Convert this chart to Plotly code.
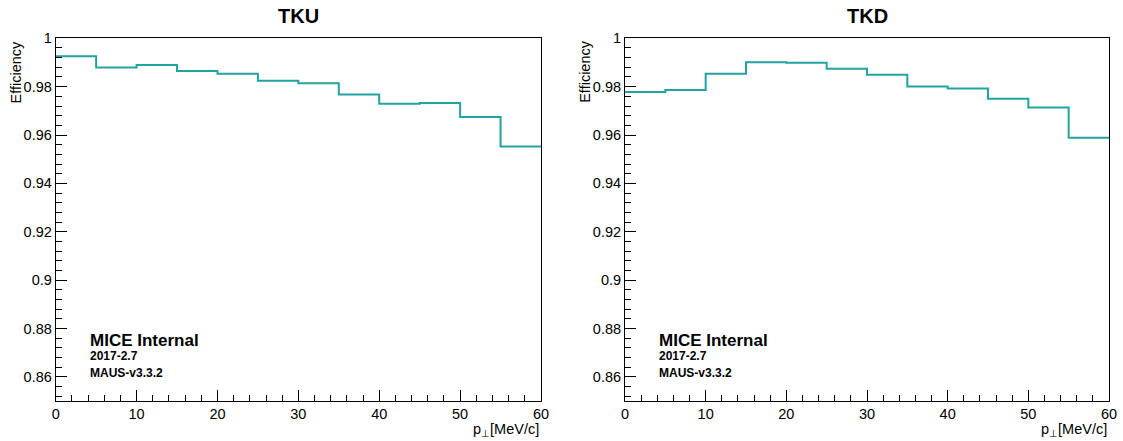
import plotly.graph_objects as go

# ---- data ----
bin_edges = [0, 5, 10, 15, 20, 25, 30, 35, 40, 45, 50, 55, 60]
tku_eff = [0.9926, 0.9879, 0.9890, 0.9865, 0.9853, 0.9824, 0.9814, 0.9768, 0.9729, 0.9732, 0.9675, 0.9553]
tkd_eff = [0.9778, 0.9786, 0.9853, 0.9901, 0.9899, 0.9874, 0.9849, 0.9801, 0.9792, 0.9750, 0.9714, 0.9589]
titles = ["TKU", "TKD"]
y_title = "Efficiency"
x_title = "p<sub>⊥</sub>[MeV/c]"
label_lines = ["MICE Internal", "2017-2.7", "MAUS-v3.3.2"]

W, H = 1123, 441
FONT = "Liberation Sans, Arial, Helvetica, sans-serif"
COLOR = "#21a3a1"


def px(x):
    return x / W


def py(y):
    return 1 - y / H


panels = [
    dict(x0=55.7, x1=541.0),
    dict(x0=625.0, x1=1109.0),
]
y_top, y_bot = 38.3, 401.0

fig = go.Figure()
annotations = []
for i, (eff, p) in enumerate(zip([tku_eff, tkd_eff], panels)):
    n = "" if i == 0 else str(i + 1)
    fig.add_trace(go.Scatter(
        x=bin_edges, y=eff + [eff[-1]], mode="lines", line_shape="hv",
        line=dict(color=COLOR, width=2), xaxis="x" + n, yaxis="y" + n,
        showlegend=False, hoverinfo="skip"))
    axcommon = dict(showline=True, linecolor="black", linewidth=1, mirror=True,
                    ticks="inside", tickcolor="black", tickwidth=1, ticklen=11,
                    showgrid=False, zeroline=False, automargin=False,
                    tickfont=dict(family=FONT, size=14.5, color="black"))
    fig.update_layout(**{
        "xaxis" + n: dict(domain=[px(p["x0"]), px(p["x1"])], range=[0, 60], dtick=10, tick0=0,
                          anchor="y" + n,
                          minor=dict(dtick=2, ticks="inside", ticklen=6, tickcolor="black", showgrid=False),
                          **axcommon),
        "yaxis" + n: dict(domain=[py(y_bot), py(y_top)], range=[0.85, 1.0], dtick=0.02, tick0=0.86,
                          anchor="x" + n,
                          minor=dict(dtick=0.004, ticks="inside", ticklen=6, tickcolor="black", showgrid=False),
                          **axcommon),
    })
    cx = (p["x0"] + p["x1"]) / 2
    annotations.append(dict(x=px(cx), y=py(16), xref="paper", yref="paper", text="<b>%s</b>" % titles[i],
                            showarrow=False, xanchor="center", yanchor="middle",
                            font=dict(family=FONT, size=20, color="black")))
    annotations.append(dict(x=px(p["x0"] - 40), y=py(y_top), xref="paper", yref="paper", text=y_title,
                            textangle=-90, showarrow=False, xanchor="center", yanchor="top",
                            font=dict(family=FONT, size=14.5, color="black")))
    annotations.append(dict(x=px(p["x1"]), y=py(430), xref="paper", yref="paper", text=x_title,
                            showarrow=False, xanchor="right", yanchor="middle",
                            font=dict(family=FONT, size=14.5, color="black")))
    tx = p["x0"] + 32
    annotations.append(dict(x=px(tx), y=py(340.5), xref="paper", yref="paper", text="<b>%s</b>" % label_lines[0],
                            showarrow=False, xanchor="left", yanchor="middle",
                            font=dict(family=FONT, size=17, color="black")))
    annotations.append(dict(x=px(tx), y=py(356), xref="paper", yref="paper", text="<b>%s</b>" % label_lines[1],
                            showarrow=False, xanchor="left", yanchor="middle",
                            font=dict(family=FONT, size=12, color="black")))
    annotations.append(dict(x=px(tx), y=py(373), xref="paper", yref="paper", text="<b>%s</b>" % label_lines[2],
                            showarrow=False, xanchor="left", yanchor="middle",
                            font=dict(family=FONT, size=12, color="black")))

fig.update_layout(width=W, height=H, autosize=False, margin=dict(l=0, r=0, t=0, b=0, pad=0),
                  paper_bgcolor="white", plot_bgcolor="white", annotations=annotations,
                  font=dict(family=FONT, color="black"))
fig.write_html("out.html")
